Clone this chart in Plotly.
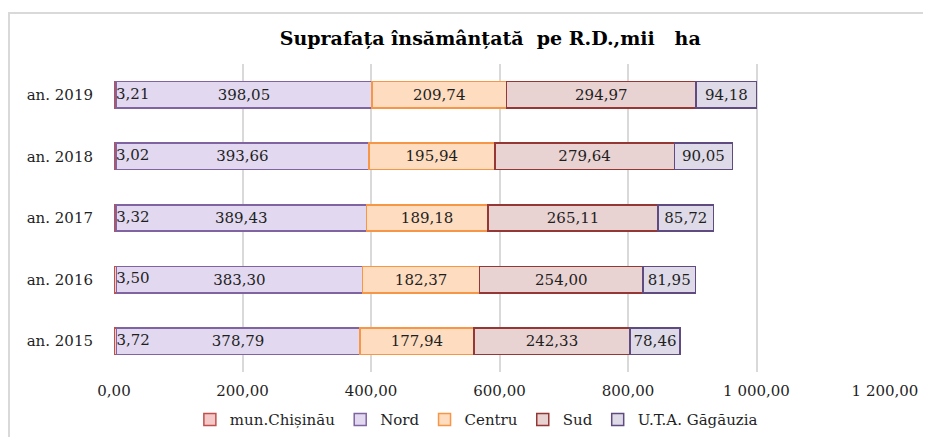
import plotly.graph_objects as go

years = ["an. 2015", "an. 2016", "an. 2017", "an. 2018", "an. 2019"]
chisinau = [3.72, 3.50, 3.32, 3.02, 3.21]
nord = [378.79, 383.30, 389.43, 393.66, 398.05]
centru = [177.94, 182.37, 189.18, 195.94, 209.74]
sud = [242.33, 254.00, 265.11, 279.64, 294.97]
uta = [78.46, 81.95, 85.72, 90.05, 94.18]

x_ticks = [0, 200, 400, 600, 800, 1000, 1200]

FONT = "DejaVu Serif"
TXT = "#1f1f1f"


def fmt(v):
    return f"{v:.2f}".replace(".", ",")


series = [
    ("mun.Chișinău", chisinau, "#F4C9C8", "#C0504D", False),
    ("Nord", nord, "#E2D9F0", "#8064A2", True),
    ("Centru", centru, "#FDDCBF", "#F79646", True),
    ("Sud", sud, "#E9D2D2", "#953735", True),
    ("U.T.A. Găgăuzia", uta, "#DEDAE7", "#5F4B7F", True),
]

fig = go.Figure()
for name, vals, fill, line, lab in series:
    fig.add_trace(go.Bar(
        name=name, y=years, x=vals, orientation="h",
        marker=dict(color=fill, line=dict(color=line, width=1.5)),
        text=[fmt(v) for v in vals] if lab else None,
        textposition="inside" if lab else "none",
        insidetextanchor="middle", textangle=0,
        textfont=dict(family=FONT, size=15, color=TXT),
        hoverinfo="x+name",
    ))

# Chișinău labels (bar too thin to hold them)
fig.add_trace(go.Scatter(
    y=years, x=chisinau, mode="text",
    text=[fmt(v) for v in chisinau], textposition="middle right",
    textfont=dict(family=FONT, size=15, color=TXT),
    showlegend=False, hoverinfo="skip", cliponaxis=False,
))

fig.update_layout(
    width=923, height=429,
    barmode="stack", bargap=0.57,
    separators=", ",
    paper_bgcolor="white", plot_bgcolor="white",
    margin=dict(l=106, r=46, t=56, b=65, autoexpand=False),
    font=dict(family=FONT, size=15, color=TXT),
    title=dict(text="<b>Suprafața însămânțată  pe R.D.,mii \u00a0 ha</b>",
               x=0.488, xanchor="center", y=0.930, yanchor="middle",
               xref="paper", yref="container",
               font=dict(family=FONT, size=19, color="black")),
    legend=dict(orientation="h", x=0.47, xanchor="center",
                y=-0.155, yanchor="middle",
                font=dict(family=FONT, size=15, color=TXT),
                traceorder="normal", itemwidth=30),
    xaxis=dict(range=[0, 1200], tickvals=x_ticks, tickformat=",.2f",
               showgrid=True, gridcolor="#D9D9D9", gridwidth=1.5,
               zeroline=False, showline=False, ticks="", automargin=False,
               ticklabelstandoff=8,
               tickfont=dict(family=FONT, size=15, color=TXT)),
    yaxis=dict(showgrid=False, showline=False, ticks="", ticklabelstandoff=20,
               automargin=False,
               tickfont=dict(family=FONT, size=15, color=TXT)),
    showlegend=True,
)

# outer chart frame (only top and left visible in reference)
fig.add_shape(type="rect", xref="paper", yref="paper",
              x0=-105 / 771, x1=1.2, y0=-0.5, y1=1 + 51 / 308,
              line=dict(color="#D9D9D9", width=2), layer="below")

fig.write_html("out.html")
